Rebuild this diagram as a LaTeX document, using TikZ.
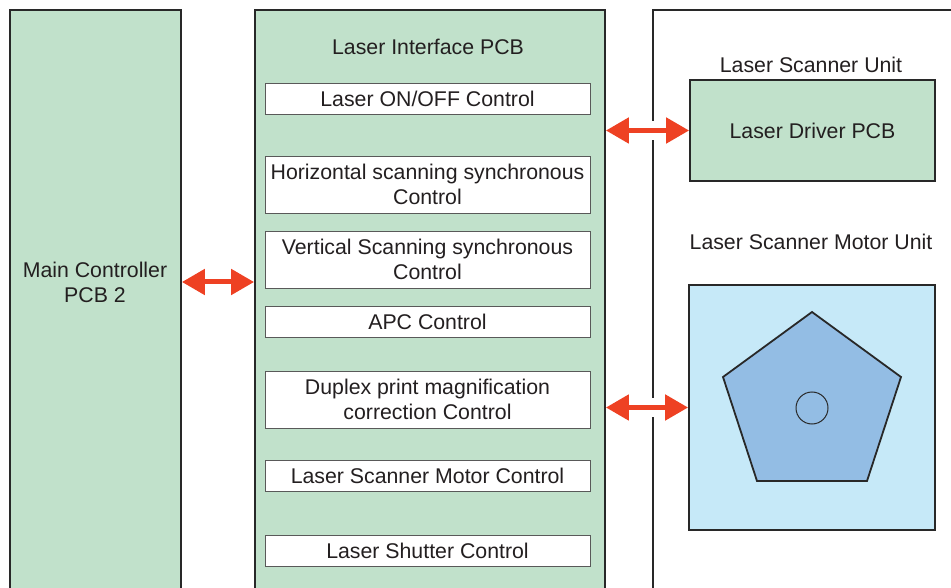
\documentclass[tikz,border=0pt]{standalone}
\usepackage{fontspec}
\setmainfont{Liberation Sans}
\usetikzlibrary{arrows.meta,positioning,calc}
\definecolor{pcbgreen}{RGB}{193,225,203}
\definecolor{motorblue}{RGB}{198,233,248}
\definecolor{mirrorblue}{RGB}{147,189,228}
\definecolor{arrowred}{RGB}{238,65,35}
\definecolor{linedark}{RGB}{40,40,40}
\definecolor{textdark}{RGB}{35,31,32}

\begin{document}
\begin{tikzpicture}[
    x=1pt, y=-1pt,
    every node/.style={text=textdark, font=\fontsize{21.3}{25}\selectfont},
    unit/.style={rectangle, draw=linedark, line width=1.8pt, inner sep=0pt},
    pcb/.style={unit, fill=pcbgreen},
    ctrl/.style={rectangle, draw=gray!70!black, line width=0.8pt, fill=white, minimum width=325pt, minimum height=31pt, inner sep=0pt, align=center},
    ctrltwo/.style={ctrl, minimum height=57pt},
    label/.style={align=center},
    link/.style={{Triangle[length=23pt,width=25pt]}-{Triangle[length=23pt,width=25pt]}, line width=5pt, draw=arrowred},
    gap/.style={draw=white, line width=19pt}
]
    \clip (0,0) rectangle (951,588);

    % Outer units (open at the bottom)
    \node[pcb, minimum width=171pt, minimum height=600pt] (main) at (95.5,310) {};
    \node[pcb, minimum width=350pt, minimum height=600pt] (lif) at (430,310) {};
    \node[unit, fill=white, minimum width=317pt, minimum height=600pt] (lsu) at (811.5,310) {};

    % Labels of the units
    \node[label] (mainlbl) at (95,282) {Main Controller\\PCB 2};
    \node[label] (liflbl) at (428,47) {Laser Interface PCB};
    \node[label] (lsulbl) at (811,65) {Laser Scanner Unit};
    \node[label] (motorlbl) at (811,242) {Laser Scanner Motor Unit};

    % Control blocks of the interface PCB
    \node[ctrl] (onoff) at (427.5,98.5) {Laser ON/OFF Control};
    \node[ctrltwo] (hsync) at (427.5,184.5) {Horizontal scanning synchronous\\Control};
    \node[ctrltwo] (vsync) at (427.5,259.5) {Vertical Scanning synchronous\\Control};
    \node[ctrl] (apc) at (427.5,321.5) {APC Control};
    \node[ctrltwo] (duplex) at (427.5,399.5) {Duplex print magnification\\correction Control};
    \node[ctrl] (motorctl) at (427.5,475.5) {Laser Scanner Motor Control};
    \node[ctrl] (shutter) at (427.5,550.5) {Laser Shutter Control};

    % Scanner unit parts
    \node[pcb, minimum width=245pt, minimum height=101pt] (ldrv) at (812.5,130.5) {Laser Driver PCB};
    \node[unit, fill=motorblue, minimum width=246pt, minimum height=245pt] (motor) at (812,407.5) {};

    % Polygon mirror
    \draw[draw=linedark, line width=1.8pt, fill=mirrorblue, line join=miter]
        (812,312) -- (901,377) -- (867,481) -- (757,481) -- (723,377) -- cycle;
    \draw[draw=linedark, line width=1pt] (812,408) circle (16);

    % Links
    \draw[gap] ([xshift=-2pt]lsu.west |- ldrv.west) -- ([xshift=2pt]lsu.west |- ldrv.west);
    \draw[gap] ([xshift=-2pt]lsu.west |- motor.west) -- ([xshift=2pt]lsu.west |- motor.west);
    \draw[link] (main.east |- mainlbl) -- (lif.west |- mainlbl);
    \draw[link] (lif.east |- ldrv.west) -- (ldrv.west);
    \draw[link] (lif.east |- motor.west) -- (motor.west);
\end{tikzpicture}
\end{document}
